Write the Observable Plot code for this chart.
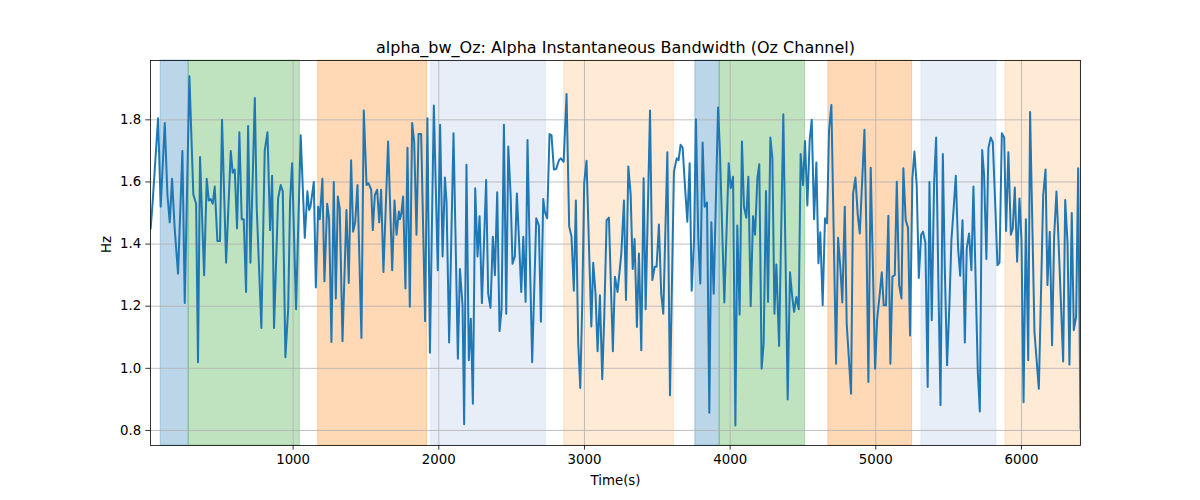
<!DOCTYPE html>
<html>
<head>
<meta charset="utf-8">
<script src="https://cdn.jsdelivr.net/npm/d3@7"></script>
<script src="https://cdn.jsdelivr.net/npm/@observablehq/plot@0.6"></script>
<style>
  html, body { margin: 0; padding: 0; background: #fff; }
  #chart { width: 1200px; height: 500px; }
</style>
</head>
<body>
<div id="chart"></div>
<script>
// ---- data ----
const times = [
  22,36,73,91,119,137,153,169,187,210,240,256,288,315,334,347,361,389,407,421,434,448,462,480,498,512,540,572,585,599,615,631,647,661,677,691,707,737,750,782,805,824,842,856,869,897,915,929,947,966,979,993,1020,1052,1080,1098,
  1110,1119,1142,1156,1172,1183,1201,1215,1234,1247,1263,1279,1293,1307,1320,1339,1366,1382,1398,1412,1426,1442,1469,1485,1504,1517,1536,1547,1561,1577,1591,1604,1620,1652,1680,1696,1710,1726,1733,1742,1755,1771,1785,1801,1817,1831,1847,1861,1879,1906,1922,1939,1966,1993,2009,2026,2042,2053,2071,2101,2131,2145,2163,
  2174,2190,2206,2220,2234,2250,2266,2280,2296,2325,2339,2355,2371,2385,2401,2417,2431,2447,2463,2477,2493,2506,2522,2536,2552,2566,2580,2596,2609,2625,2641,2669,2687,2701,2717,2728,2744,2760,2774,2790,2806,2825,2838,2857,2877,2895,2911,2927,2941,2957,2971,2985,2998,3014,3030,3047,3060,3076,3090,3106,3122,3136,3152,3168,3182,3195,3209,3227,
  3253,3271,3285,3301,3317,3331,3344,3360,3374,3390,3406,3420,3450,3466,3482,3495,3511,3527,3541,3569,3587,3614,3633,3646,3660,3674,3690,3706,3722,3736,3752,3765,3781,3795,3811,3825,3841,3857,3871,3887,3917,3930,3960,3990,4004,4020,4036,4049,4065,4081,4095,4111,4125,4141,4157,4171,4187,4200,4216,4230,4246,4260,4276,
  4290,4304,4317,4336,4365,4395,4411,4425,4439,4455,4471,4484,4500,4514,4530,4546,4560,4576,4592,4606,4619,4635,4651,4665,4679,4695,4711,4727,4741,4757,4770,4787,4800,4830,4844,4860,4876,4890,4922,4935,4949,4965,4995,5009,5027,5041,5054,5070,5086,5100,5114,5130,5144,5160,5176,5189,5205,5221,5235,5251,5265,5281,5295,5311,5324,5340,5356,
  5368,5384,5400,5414,5430,5444,5460,5473,5489,5505,5519,5535,5549,5565,5579,5595,5611,5624,5640,5656,5670,5700,5714,5730,5743,5759,5773,5789,5803,5819,5835,5849,5865,5881,5894,5910,5927,5940,5954,5970,5986,6000,6014,6030,6046,6059,6089,6119,6149,6165,6178,6194,6210,6224,6240,6254,6286,6300,6316,6329,6345,6359,6375,6389,6405
];
const bandwidth = [
  1.45,1.537,1.805,1.52,1.79,1.56,1.47,1.61,1.45,1.305,1.70,1.21,1.94,1.56,1.53,1.02,1.68,1.30,1.61,1.54,1.545,1.53,1.585,1.41,1.41,1.80,1.34,1.70,1.63,1.64,1.45,1.76,1.48,1.48,1.246,1.78,1.34,1.87,1.52,1.13,1.70,1.76,1.445,1.62,1.13,1.547,1.59,1.57,1.036,1.19,1.536,1.66,1.19,1.75,1.42,1.57,
  1.51,1.52,1.60,1.26,1.52,1.48,1.61,1.28,1.53,1.48,1.085,1.60,1.225,1.553,1.515,1.087,1.51,1.275,1.67,1.44,1.47,1.59,1.098,1.83,1.59,1.596,1.575,1.445,1.558,1.575,1.47,1.575,1.31,1.73,1.316,1.54,1.43,1.505,1.48,1.495,1.553,1.257,1.71,1.198,1.79,1.73,1.43,1.754,1.754,1.152,1.805,1.05,1.846,1.316,1.784,1.36,1.614,1.537,1.083,1.757,1.031,1.32,1.203,
  0.82,1.655,1.026,1.16,0.886,1.58,1.36,1.49,1.21,1.606,1.24,1.195,1.424,1.30,1.567,1.12,1.19,1.784,1.176,1.714,1.558,1.337,1.36,1.563,1.397,1.246,1.424,1.214,1.735,1.36,1.02,1.483,1.46,1.15,1.545,1.504,1.483,1.754,1.75,1.64,1.642,1.67,1.676,1.665,1.883,1.457,1.424,1.25,1.54,1.085,0.937,1.214,1.596,1.668,1.41,1.135,1.34,1.24,1.055,1.235,0.965,1.17,1.477,1.485,1.257,1.055,1.295,1.246,
  1.37,1.54,1.22,1.65,1.56,1.32,1.416,1.133,1.37,1.058,1.612,1.19,1.83,1.284,1.327,1.327,1.463,1.238,1.176,1.696,0.913,1.633,1.676,1.67,1.72,1.71,1.585,1.472,1.66,1.25,1.41,1.802,1.424,1.273,1.727,1.52,1.534,0.857,1.47,1.24,1.84,1.698,1.212,1.66,1.58,1.617,0.816,1.46,1.173,1.73,1.52,1.485,1.617,1.20,1.49,1.43,1.612,1.657,0.999,1.08,1.571,1.214,1.743,
  1.676,1.176,1.334,1.072,1.818,0.90,1.309,1.235,1.182,1.23,1.19,1.69,1.59,1.732,1.524,1.735,1.80,1.48,1.663,1.338,1.438,1.203,1.483,1.467,1.768,1.848,1.43,1.015,1.42,1.32,1.212,1.52,1.145,0.918,1.563,1.614,1.494,1.434,1.768,1.445,0.956,1.646,0.999,1.158,1.24,1.309,1.203,1.203,1.491,1.015,1.295,1.30,1.601,1.268,1.225,1.644,1.477,1.453,1.106,1.612,1.698,1.585,1.291,1.43,1.44,1.405,0.94,
  1.60,1.155,1.596,1.743,1.257,0.881,1.69,1.332,1.01,1.203,1.413,1.52,1.62,1.386,1.298,1.477,1.083,1.386,1.434,1.316,1.585,0.988,0.861,1.703,1.623,1.352,1.709,1.743,1.728,1.537,1.332,1.34,1.757,1.743,1.442,1.696,1.43,1.45,1.582,1.343,1.547,1.41,0.891,1.48,1.026,1.825,1.117,0.934,1.558,1.64,1.268,1.44,1.074,1.424,1.569,1.413,1.022,1.542,1.403,1.012,1.50,1.123,1.166,1.644,0.805
];
const spanStart = [91, 283, 1172, 1948, 2861, 3761, 3928, 4674, 5313, 5890];
const spanEnd   = [283, 1046, 1920, 2735, 3614, 3928, 4514, 5249, 5828, 6405];
const spanColor = ["#1f77b4","#2ca02c","#ff7f0e","#aec7e8","#ffbb78","#1f77b4","#2ca02c","#ff7f0e","#aec7e8","#ffbb78"];
const xTicks = [1000, 2000, 3000, 4000, 5000, 6000];
const yTicks = [0.8, 1.0, 1.2, 1.4, 1.6, 1.8];
const xDomain = [21, 6405];
const yDomain = [0.7516, 1.991];
const titleText = "alpha_bw_Oz: Alpha Instantaneous Bandwidth (Oz Channel)";
const xLabel = "Time(s)";
const yLabel = "Hz";

// ---- build tables ----
const series = times.map((t, i) => ({t, v: bandwidth[i]}));
const spans = spanStart.map((s, i) => ({x1: s, x2: spanEnd[i], c: spanColor[i]}));

const chart = Plot.plot({
  width: 1200,
  height: 500,
  marginLeft: 150,
  marginRight: 120,
  marginTop: 60,
  marginBottom: 55,
  style: {fontFamily: "'DejaVu Sans', sans-serif", fontSize: "13.33px", color: "#000", background: "#fff"},
  x: {domain: xDomain, label: null},
  y: {domain: yDomain, label: null},
  marks: [
    Plot.rect(spans, {x1: "x1", x2: "x2", fill: "c", fillOpacity: 0.3, stroke: "c", strokeOpacity: 0.3, strokeWidth: 1}),
    Plot.gridX(xTicks, {stroke: "#b0b0b0", strokeOpacity: 1, strokeWidth: 0.8}),
    Plot.gridY(yTicks, {stroke: "#b0b0b0", strokeOpacity: 1, strokeWidth: 0.8}),
    Plot.line(series, {x: "t", y: "v", stroke: "#1f77b4", strokeWidth: 2, clip: true}),
    Plot.frame({stroke: "#000", strokeWidth: 0.8}),
    Plot.axisX({ticks: xTicks, tickFormat: "d", tickSize: 4.67, tickPadding: 4.67, strokeWidth: 0.8, label: null, fontSize: 13.33}),
    Plot.axisY({ticks: yTicks, tickFormat: ".1f", tickSize: 4.67, tickPadding: 4.67, strokeWidth: 0.8, label: null, fontSize: 13.33}),
    Plot.text([titleText], {frameAnchor: "top", lineAnchor: "middle", dy: -13, fontSize: 16, fill: "#000"}),
    Plot.text([xLabel], {frameAnchor: "bottom", lineAnchor: "middle", dy: 35.7, fontSize: 13.33, fill: "#000"}),
    Plot.text([yLabel], {frameAnchor: "left", lineAnchor: "middle", dx: -44, rotate: -90, fontSize: 13.33, fill: "#000"})
  ]
});
document.getElementById("chart").appendChild(chart);
</script>
</body>
</html>
